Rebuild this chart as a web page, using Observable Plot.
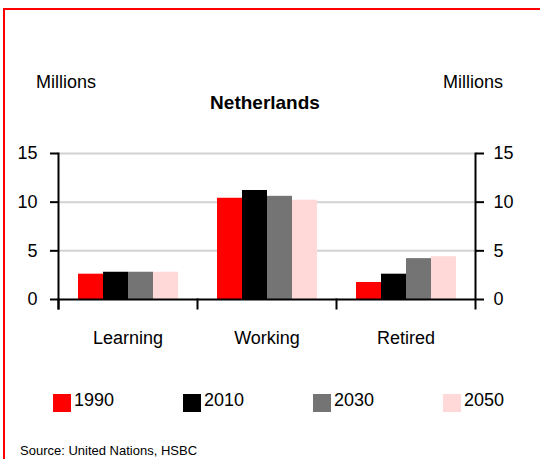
<!DOCTYPE html>
<html>
<head>
<meta charset="utf-8">
<script src="https://cdn.jsdelivr.net/npm/d3@7"></script>
<script src="https://cdn.jsdelivr.net/npm/@observablehq/plot@0.6"></script>
<style>
  html, body { margin: 0; padding: 0; background: #fff; }
  #wrap { position: relative; width: 540px; height: 459px; overflow: hidden; font-family: "Liberation Sans", Arial, sans-serif; color: #000; }
  #border { position: absolute; left: 3px; top: 8px; width: 700px; height: 700px; border-top: 2px solid #ff0000; border-left: 2px solid #ff0000; }
  .txt { position: absolute; line-height: 1; white-space: nowrap; }
  #chart { position: absolute; left: 0; top: 130px; }
  #legend { position: absolute; left: 53px; top: 388px; width: 560px; }
  #legend > div { font: 18px "Liberation Sans", Arial, sans-serif !important; min-height: 0 !important; margin: 0 !important; flex-wrap: nowrap !important; }
  #legend span { width: 130px; flex: 0 0 130px; margin: 0 !important; color: #000; }
  #legend svg { margin: 6px 3px 0 0 !important; }
</style>
</head>
<body>
<div id="wrap">
  <div id="border"></div>
  <div class="txt" style="left:36px; top:73px; font-size:18px;">Millions</div>
  <div class="txt" style="left:443px; top:73px; font-size:18px;">Millions</div>
  <div class="txt" style="left:0; width:530px; text-align:center; top:93px; font-size:19px; font-weight:bold;">Netherlands</div>
  <div id="chart"></div>
  <div id="legend"></div>
  <div class="txt" style="left:20px; top:444px; font-size:13px;">Source: United Nations, HSBC</div>
</div>
<script>
const categories = ["Learning", "Working", "Retired"];
const years = ["1990", "2010", "2030", "2050"];
const learning = [2.6, 2.8, 2.8, 2.8];
const working = [10.4, 11.2, 10.6, 10.2];
const retired = [1.75, 2.6, 4.2, 4.4];
const yTicks = [0, 5, 10, 15];
const gridTicks = [5, 10, 15];
const colors = ["#ff0000", "#000000", "#747474", "#ffd8d8"];

const series = [learning, working, retired];
const rows = [];
categories.forEach((c, i) => years.forEach((y, j) => rows.push({category: c, year: y, value: series[i][j]})));

const H = 230, MT = 23, MB = 61;
const chart = Plot.plot({
  width: 540,
  height: H,
  marginLeft: 58,
  marginRight: 65,
  marginTop: MT,
  marginBottom: MB,
  style: {fontFamily: "Liberation Sans, Arial, sans-serif", fontSize: "18px", background: "transparent", overflow: "visible", color: "#000"},
  fx: {domain: categories, padding: 0, label: null},
  x: {domain: years, paddingInner: 0, paddingOuter: 0.75, axis: null},
  y: {domain: [0, 15], label: null},
  color: {domain: years, range: colors},
  marks: [
    Plot.gridY(gridTicks, {stroke: "#d2d2d2", strokeOpacity: 1, strokeWidth: 2}),
    Plot.barY(rows, {fx: "category", x: "year", y: "value", fill: "year"}),
    Plot.ruleY([0], {stroke: "#000", strokeWidth: 2}),
    Plot.frame({anchor: "left", insetTop: H - MT - MB, insetBottom: -9, stroke: "#000", strokeWidth: 2}),
    Plot.frame({facet: "super", anchor: "left", insetBottom: -9, stroke: "#000", strokeWidth: 2}),
    Plot.frame({facet: "super", anchor: "right", insetBottom: -9, stroke: "#000", strokeWidth: 2}),
    Plot.axisY(yTicks, {anchor: "left", tickSize: 8, tickPadding: 13, label: null, strokeWidth: 2, fill: "#000"}),
    Plot.axisY(yTicks, {anchor: "right", tickSize: 8, tickPadding: 10, label: null, strokeWidth: 2, fill: "#000"}),
    Plot.axisFx({anchor: "bottom", tickSize: 0, tickPadding: 32, label: null, fill: "#000"})
  ]
});
document.getElementById("chart").appendChild(chart);

const legend = Plot.legend({color: {domain: years, range: colors}, swatchSize: 18, style: {fontSize: "18px", fontFamily: "Liberation Sans, Arial, sans-serif"}});
document.getElementById("legend").appendChild(legend);
</script>
</body>
</html>
